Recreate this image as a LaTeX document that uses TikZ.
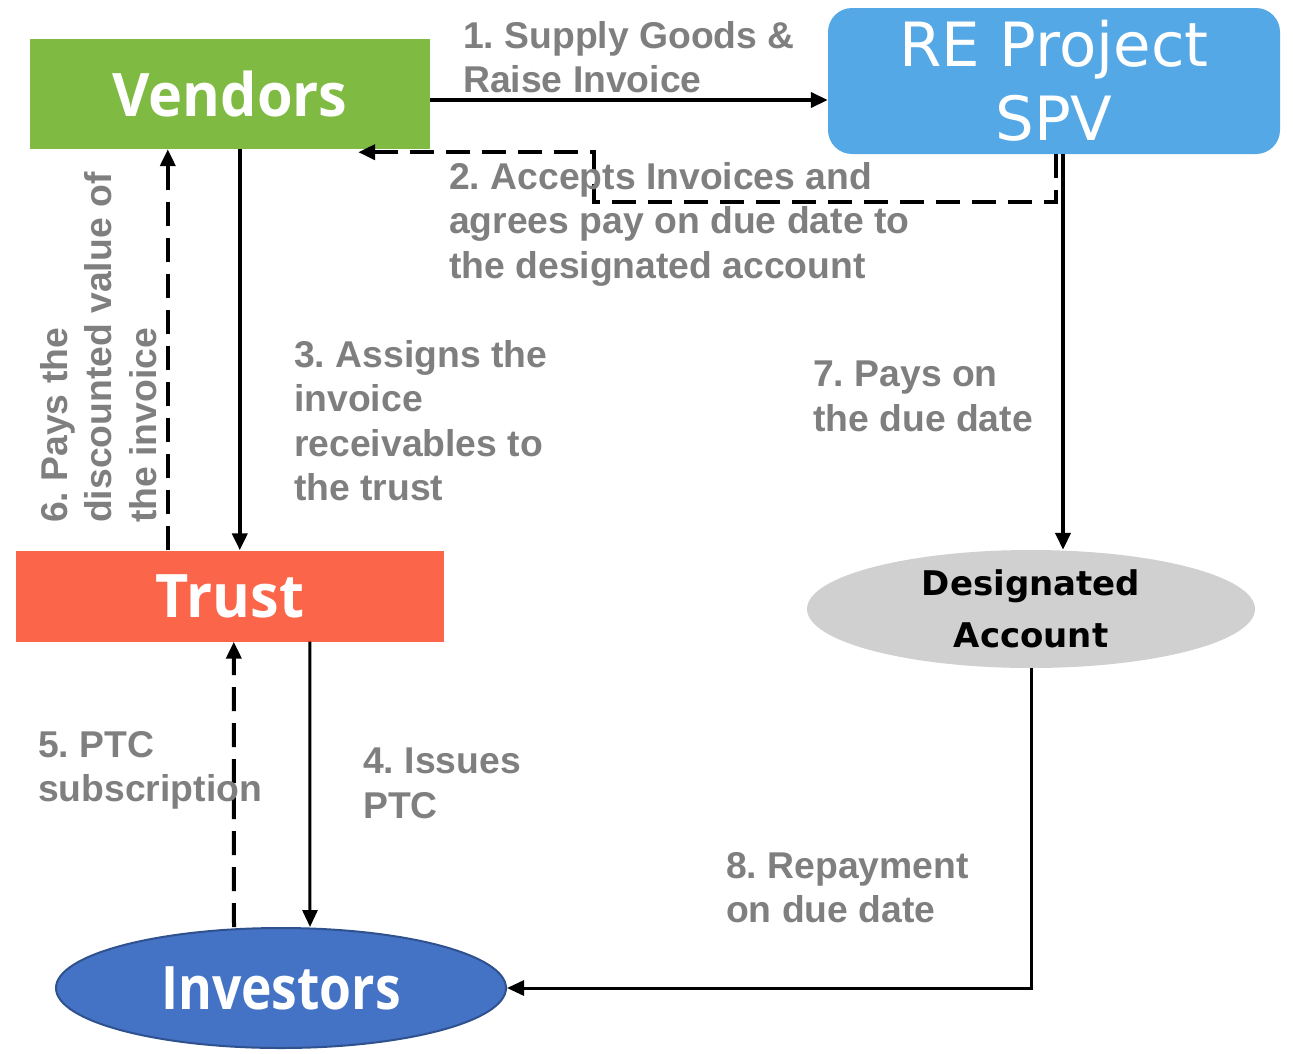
\documentclass[tikz,border=0pt]{standalone}
\usepackage{fontspec}
\setmainfont{Liberation Sans}
\newfontfamily\boxfont{Open Sans}[FakeStretch=0.96]
\newfontfamily\invfont{Open Sans}[FakeStretch=0.86]
\newfontfamily\spvfont{DejaVu Sans}
\usetikzlibrary{arrows.meta,shapes.geometric,calc}
\frenchspacing

\definecolor{vendgreen}{RGB}{127,186,66}
\definecolor{spvblue}{RGB}{85,168,230}
\definecolor{trustred}{RGB}{251,101,73}
\definecolor{acctgray}{RGB}{208,208,208}
\definecolor{invblue}{RGB}{68,114,196}
\definecolor{invedge}{RGB}{47,82,143}
\definecolor{notegray}{RGB}{127,127,127}

\tikzset{
  stepnote/.style={anchor=north west, inner sep=0pt, align=left, text=notegray,
    font=\bfseries\fontsize{37.3}{44.5}\selectfont},
  bigbox/.style={inner sep=0pt, text=white, font=\boxfont\bfseries\fontsize{60}{60}\selectfont},
  flow/.style={line width=4pt, -{Triangle[length=17pt,width=15pt]}},
  thinflow/.style={line width=3pt, -{Triangle[length=17pt,width=15pt]}},
  dflow/.style={flow, dash pattern=on 24pt off 12pt},
}

\begin{document}
\begin{tikzpicture}[x=1pt,y=-1pt]
	 \useasboundingbox (0,0) rectangle (1293,1053);
	 
	 % parties
	 \node[bigbox, fill=vendgreen, minimum width=400pt, minimum height=110pt] (vendors) at (230,94) {Vendors};
	 \node[bigbox, fill=spvblue, rounded corners=24pt, minimum width=452pt, minimum height=146pt, align=center,
	   font=\spvfont\fontsize{61}{74}\selectfont] (spv) at (1054,81) {RE Project\\SPV};
	 \node[bigbox, fill=trustred, minimum width=428pt, minimum height=91pt] (trust) at (230,596) {Trust};
	 \node[ellipse, fill=acctgray, inner sep=0pt, minimum width=448pt, minimum height=118pt, align=center,
	   font=\spvfont\bfseries\fontsize{34}{52}\selectfont] (acct) at (1031,609) {Designated\\Account};
	 \node[bigbox, ellipse, fill=invblue, draw=invedge, line width=2pt, minimum width=450pt, minimum height=120pt,
	   font=\invfont\bfseries\fontsize{60}{60}\selectfont] (inv) at (281,988) {Investors};
	 
	 % flows
	 \coordinate (a1) at ($(vendors.east)+(0,6)$);
	 \draw[flow] (a1) -- (a1 -| spv.west);
	 \coordinate (a2) at (594,202);
	 \coordinate (a2end) at ($(vendors.south east)+(-72,3)$);
	 \draw[dflow] ([xshift=2pt]spv.south) |- (a2) |- (a2end);
	 \draw[flow] ([xshift=210pt]vendors.south west) -- ([xshift=224pt]trust.north west);
	 \draw[thinflow] ([xshift=294pt]trust.south west) -- ([xshift=29pt]inv.north);
	 \draw[dflow] ([xshift=-47pt]inv.north) -- ([xshift=218pt]trust.south west);
	 \draw[dflow] ([xshift=152pt]trust.north west) -- ([xshift=138pt]vendors.south west);
	 \draw[flow] ([xshift=9pt]spv.south) -- ([xshift=32pt]acct.north);
	 \draw[thinflow] (acct.south) |- (inv.east);
	 
	 % steps
	 \node[stepnote] (s1) at (463,21) {1. Supply Goods \&\\Raise Invoice};
	 \node[stepnote] (s2) at (449,162) {2. Accepts Invoices and\\agrees pay on due date to\\the designated account};
	 \node[stepnote] (s3) at (294,340) {3. Assigns the\\invoice\\receivables to\\the trust};
	 \node[stepnote] (s4) at (363,748) {4. Issues\\PTC};
	 \node[stepnote] (s5) at (38,731) {5. PTC\\subscription};
	 \node[stepnote, rotate=90] (s6) at (40,523) {6. Pays the\\discounted value of\\the invoice};
	 \node[stepnote] (s7) at (813,361) {7. Pays on\\the due date};
	 \node[stepnote] (s8) at (726,852) {8. Repayment\\on due date};
\end{tikzpicture}
\end{document}
